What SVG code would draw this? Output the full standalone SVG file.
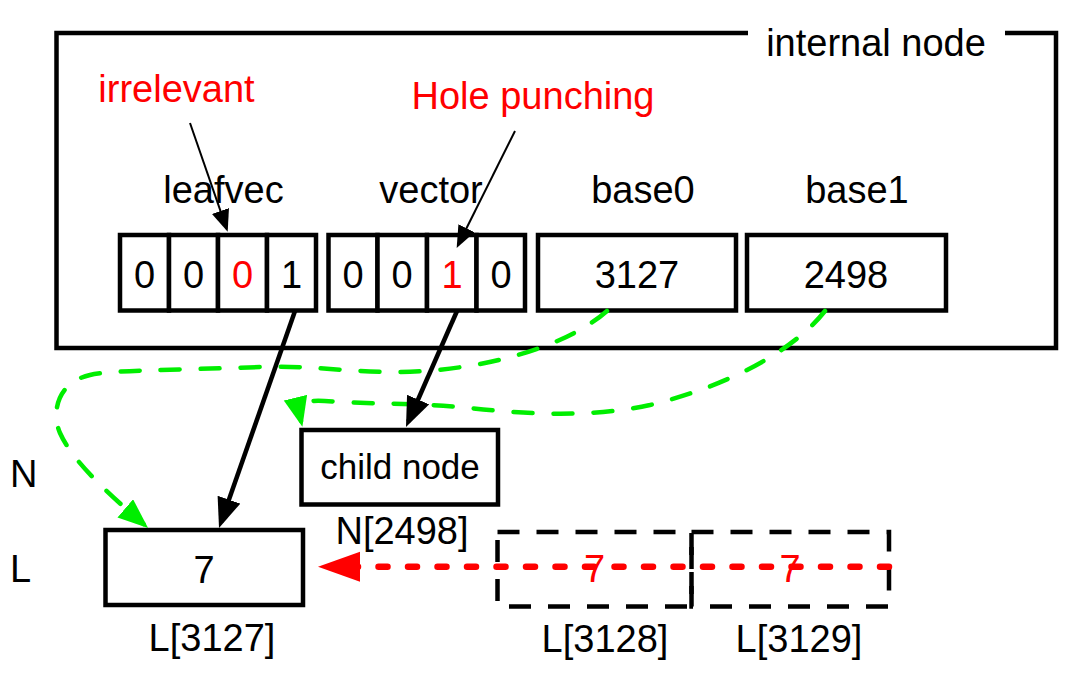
<svg xmlns="http://www.w3.org/2000/svg" width="1080" height="678" viewBox="0 0 1080 678">
<style>
text{font-family:"Liberation Sans",Arial,Helvetica,sans-serif;font-size:38px;fill:#000;text-anchor:middle}
.red{fill:#ff0000}
.box{fill:#fff;stroke:#000;stroke-width:4.5}
.dbox{fill:none;stroke:#000;stroke-width:4.5;stroke-dasharray:22 17}
.frame{fill:none;stroke:#000;stroke-width:4.5;stroke-linejoin:miter}
.thin{fill:none;stroke:#000;stroke-width:2}
.thick{fill:none;stroke:#000;stroke-width:4.5}
.green{fill:none;stroke:#00ee00;stroke-width:4.5;stroke-dasharray:19 21;stroke-linecap:round}
.dot{fill:none;stroke:#ff0000;stroke-width:6.5;stroke-dasharray:9 20.5;stroke-linecap:round}
</style>
<defs>
<marker id="aThin" markerUnits="userSpaceOnUse" markerWidth="24" markerHeight="20" refX="19" refY="9" orient="auto"><path d="M0,0 L22,9 L0,18 z" fill="#000"/></marker>
<marker id="aThick" markerUnits="userSpaceOnUse" markerWidth="32" markerHeight="26" refX="24" refY="12" orient="auto"><path d="M0,0 L30,12 L0,24 z" fill="#000"/></marker>
<marker id="aGreen" markerUnits="userSpaceOnUse" markerWidth="32" markerHeight="26" refX="24" refY="12" orient="auto"><path d="M0,0 L30,12 L0,24 z" fill="#00ee00"/></marker>
<marker id="aRed" markerUnits="userSpaceOnUse" markerWidth="44" markerHeight="32" refX="30" refY="15" orient="auto"><path d="M0,0 L42,15 L0,30 z" fill="#ff0000"/></marker>
</defs>

<g id="internal-node">
<path class="frame" d="M748,33 L56.5,33 L56.5,348 L1056,348 L1056,33 L1005,33"/>
<text x="876" y="56">internal node</text>
</g>

<g id="leafvec">
<text x="223.5" y="203">leafvec</text>
<rect class="box" x="120" y="235" width="49" height="75.5"/>
<rect class="box" x="169" y="235" width="49" height="75.5"/>
<rect class="box" x="218" y="235" width="49" height="75.5"/>
<rect class="box" x="267" y="235" width="49" height="75.5"/>
<text x="144.5" y="288">0</text>
<text x="193.5" y="288">0</text>
<text class="red" x="242.5" y="288">0</text>
<text x="291.5" y="288">1</text>
</g>

<g id="vector">
<text x="431" y="203">vector</text>
<rect class="box" x="328.5" y="235" width="49" height="75.5"/>
<rect class="box" x="377.5" y="235" width="49.5" height="75.5"/>
<rect class="box" x="427" y="235" width="49.5" height="75.5"/>
<rect class="box" x="476.5" y="235" width="48.5" height="75.5"/>
<text x="353" y="288">0</text>
<text x="402" y="288">0</text>
<text class="red" x="452" y="288">1</text>
<text x="501" y="288">0</text>
</g>

<g id="base0">
<text x="643" y="203">base0</text>
<rect class="box" x="538" y="235" width="198" height="75.5"/>
<text x="637" y="288">3127</text>
</g>

<g id="base1">
<text x="857" y="203">base1</text>
<rect class="box" x="747" y="235" width="199" height="75.5"/>
<text x="846" y="288">2498</text>
</g>

<g id="annotation-irrelevant">
<text class="red" x="176.5" y="102">irrelevant</text>
</g>
<g id="annotation-hole-punching">
<text class="red" x="533" y="109">Hole punching</text>
</g>

<g id="row-labels">
<text x="10" y="487" style="text-anchor:start">N</text>
<text x="10" y="582" style="text-anchor:start">L</text>
</g>

<g id="child-node">
<rect class="box" x="301.5" y="430" width="196.5" height="74.5"/>
<text x="400" y="479" style="font-size:35px">child node</text>
<text x="402" y="544">N[2498]</text>
</g>

<g id="leaf-3127">
<rect class="box" x="105.5" y="530" width="197.5" height="75"/>
<text x="204" y="583">7</text>
<text x="212" y="651">L[3127]</text>
</g>

<g id="leaf-3128">
<rect class="dbox" x="497.5" y="532" width="194" height="74.5"/>
<text class="red" x="594.5" y="582">7</text>
<text x="605" y="652">L[3128]</text>
</g>

<g id="leaf-3129">
<rect class="dbox" x="691.5" y="532" width="197.5" height="74.5"/>
<text class="red" x="790" y="582">7</text>
<text x="799" y="652">L[3129]</text>
</g>

<g id="connectors">
<path class="green" marker-end="url(#aGreen)" d="M607,311 C565,348 480,371 400,372 C340,372 310,365 260,367 C180,370 110,370 90,375 C55,383 52,415 60,433 C72,460 105,491 143.5,524"/>
<path class="green" marker-end="url(#aGreen)" d="M825,311 C790,355 720,388 650,405 C600,416 540,416 470,408 C420,403 380,404 340,402 C305,399 296,400 301,421"/>
<path class="thick" marker-end="url(#aThick)" d="M295,311 L221,522.3"/>
<path class="thick" marker-end="url(#aThick)" d="M457,311 L408.4,421.5"/>
<path class="thin" marker-end="url(#aThin)" d="M190,123 L226.7,228.9"/>
<path class="thin" marker-end="url(#aThin)" d="M515,131 L458,245.3"/>
<path class="dot" marker-end="url(#aRed)" d="M889,566.7 L330,566.7"/>
</g>
</svg>
